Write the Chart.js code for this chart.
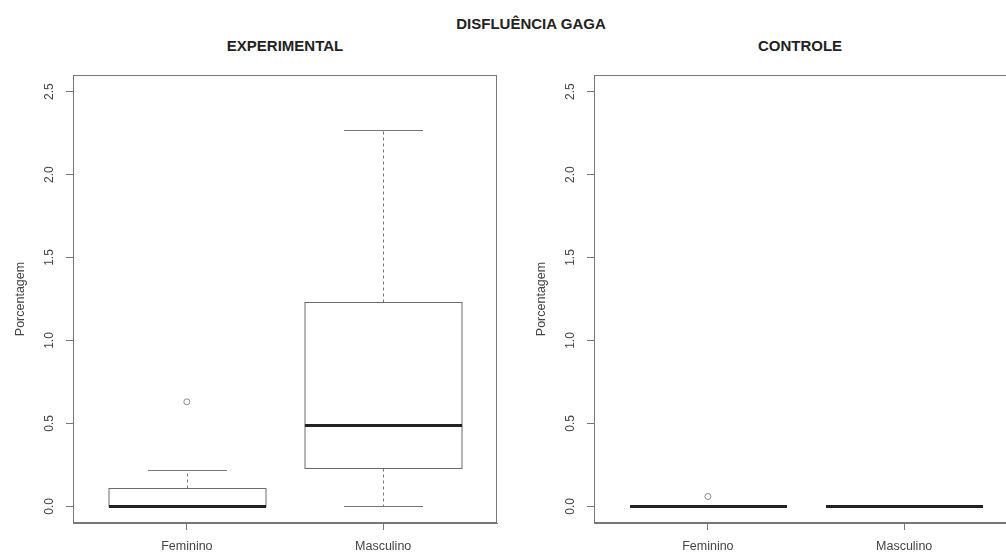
<!DOCTYPE html>
<html><head><meta charset="utf-8">
<script src="https://cdn.jsdelivr.net/npm/chart.js@4.4.1/dist/chart.umd.min.js"></script>
<style>
html,body{margin:0;padding:0;background:#fff;overflow:hidden;width:1006px;height:554px;position:relative;}
.wrap{position:absolute;top:0;width:530px;height:554px;}
.t{position:absolute;font-family:"Liberation Sans",Arial,sans-serif;font-weight:bold;color:#222;white-space:nowrap;transform:translate(-50%,-50%);font-size:15px;}
</style></head><body>
<div class="t" style="left:531px;top:23px;">DISFLUÊNCIA GAGA</div>
<div class="t" style="left:285px;top:45px;">EXPERIMENTAL</div>
<div class="t" style="left:800px;top:45px;">CONTROLE</div>
<div class="wrap" style="left:0"><canvas id="c1" width="530" height="554"></canvas></div>
<div class="wrap" style="left:521px"><canvas id="c2" width="530" height="554"></canvas></div>
<script>
const categories = ["Feminino", "Masculino"];
const yTickValues = [0, 0.5, 1, 1.5, 2, 2.5];
const yTickLabels = ["0.0", "0.5", "1.0", "1.5", "2.0", "2.5"];
const yAxisTitle = "Porcentagem";

// EXPERIMENTAL
const expLow = [0, 0];
const expQ1 = [0, 0.23];
const expMedian = [0, 0.49];
const expQ3 = [0.11, 1.23];
const expHigh = [0.22, 2.27];
const expOutliers = [[0.63], []];

// CONTROLE
const ctlLow = [0, 0];
const ctlQ1 = [0, 0];
const ctlMedian = [0, 0];
const ctlQ3 = [0, 0];
const ctlHigh = [0, 0];
const ctlOutliers = [[0.06], []];

const FONT = '"Liberation Sans", Arial, sans-serif';

const boxPlugin = {
  id: 'boxStats',
  beforeDatasetsDraw(chart, args, o) {
    const ctx = chart.ctx, xs = chart.scales.x, ys = chart.scales.y;
    ctx.save();
    for (let i = 0; i < o.low.length; i++) {
      const cx = Math.round(xs.getPixelForValue(i + 1)) + 0.5;
      const half = xs.getPixelForValue(i + 1.4) - xs.getPixelForValue(i + 1);
      const cap = half / 2;
      const yl = Math.round(ys.getPixelForValue(o.low[i])) + 0.5;
      const y1 = Math.round(ys.getPixelForValue(o.q1[i])) + 0.5;
      const ym = Math.round(ys.getPixelForValue(o.med[i]));
      const y3 = Math.round(ys.getPixelForValue(o.q3[i])) + 0.5;
      const yh = Math.round(ys.getPixelForValue(o.high[i])) + 0.5;
      ctx.strokeStyle = '#777';
      ctx.lineWidth = 1;
      ctx.setLineDash([3, 3]);
      ctx.beginPath();
      ctx.moveTo(cx, y3); ctx.lineTo(cx, yh);
      ctx.moveTo(cx, y1); ctx.lineTo(cx, yl);
      ctx.stroke();
      ctx.setLineDash([]);
      ctx.beginPath();
      ctx.moveTo(Math.round(cx - cap), yh); ctx.lineTo(Math.round(cx + cap), yh);
      ctx.moveTo(Math.round(cx - cap), yl); ctx.lineTo(Math.round(cx + cap), yl);
      ctx.stroke();
      ctx.strokeStyle = '#6a6a6a';
      ctx.strokeRect(Math.round(cx - half), y3, Math.round(2 * half), y1 - y3);
      ctx.strokeStyle = '#222';
      ctx.lineWidth = 3;
      ctx.beginPath();
      ctx.moveTo(Math.round(cx - half), ym + 0.5); ctx.lineTo(Math.round(cx + half), ym + 0.5);
      ctx.stroke();
    }
    ctx.restore();
  },
  afterDraw(chart) {
    const a = chart.chartArea, ctx = chart.ctx;
    ctx.save();
    ctx.strokeStyle = '#777';
    ctx.lineWidth = 1;
    ctx.strokeRect(Math.round(a.left) + 0.5, Math.round(a.top) + 0.5, Math.round(a.right - a.left) - 1, Math.round(a.bottom - a.top) - 1);
    ctx.restore();
  }
};

function makeChart(id, low, q1, med, q3, high, outliers) {
  const pts = [];
  outliers.forEach((arr, i) => arr.forEach(v => pts.push({ x: i + 1, y: v })));
  return new Chart(document.getElementById(id), {
    type: 'scatter',
    data: {
      datasets: [{
        data: pts,
        pointRadius: 3,
        pointBorderWidth: 1,
        borderColor: '#888',
        backgroundColor: 'rgba(255,255,255,0)',
        pointHoverRadius: 3
      }]
    },
    options: {
      responsive: false,
      animation: false,
      devicePixelRatio: 1,
      layout: { padding: { top: 75, right: 33, left: 0, bottom: 0 } },
      plugins: {
        legend: { display: false },
        tooltip: { enabled: false },
        boxStats: { low, q1, med, q3, high }
      },
      scales: {
        x: {
          type: 'linear', min: 0.42, max: 2.58,
          afterBuildTicks: s => { s.ticks = categories.map((c, i) => ({ value: i + 1 })); },
          afterFit: s => { s.height = 31; },
          ticks: {
            autoSkip: false, maxRotation: 0, minRotation: 0,
            callback: v => categories[Math.round(v) - 1] || '',
            font: { family: FONT, size: 12.5 }, color: '#444', padding: 9
          },
          grid: { drawOnChartArea: false, drawTicks: true, tickLength: 7, color: '#777' },
          border: { color: '#777' }
        },
        y: {
          type: 'linear', min: -0.1, max: 2.6,
          afterBuildTicks: s => { s.ticks = yTickValues.map(v => ({ value: v })); },
          afterFit: s => { s.width = 73; },
          ticks: {
            autoSkip: false, minRotation: 90, maxRotation: 90, crossAlign: 'center',
            callback: (v, i) => yTickLabels[i],
            font: { family: FONT, size: 12 }, color: '#444', padding: 8
          },
          title: {
            display: true, text: yAxisTitle,
            font: { family: FONT, size: 12.5 }, color: '#444',
            padding: { top: 13, bottom: 0 }
          },
          grid: { drawOnChartArea: false, drawTicks: true, tickLength: 7, color: '#777' },
          border: { color: '#777' }
        }
      }
    },
    plugins: [boxPlugin]
  });
}

makeChart('c1', expLow, expQ1, expMedian, expQ3, expHigh, expOutliers);
makeChart('c2', ctlLow, ctlQ1, ctlMedian, ctlQ3, ctlHigh, ctlOutliers);
</script>
</body></html>
